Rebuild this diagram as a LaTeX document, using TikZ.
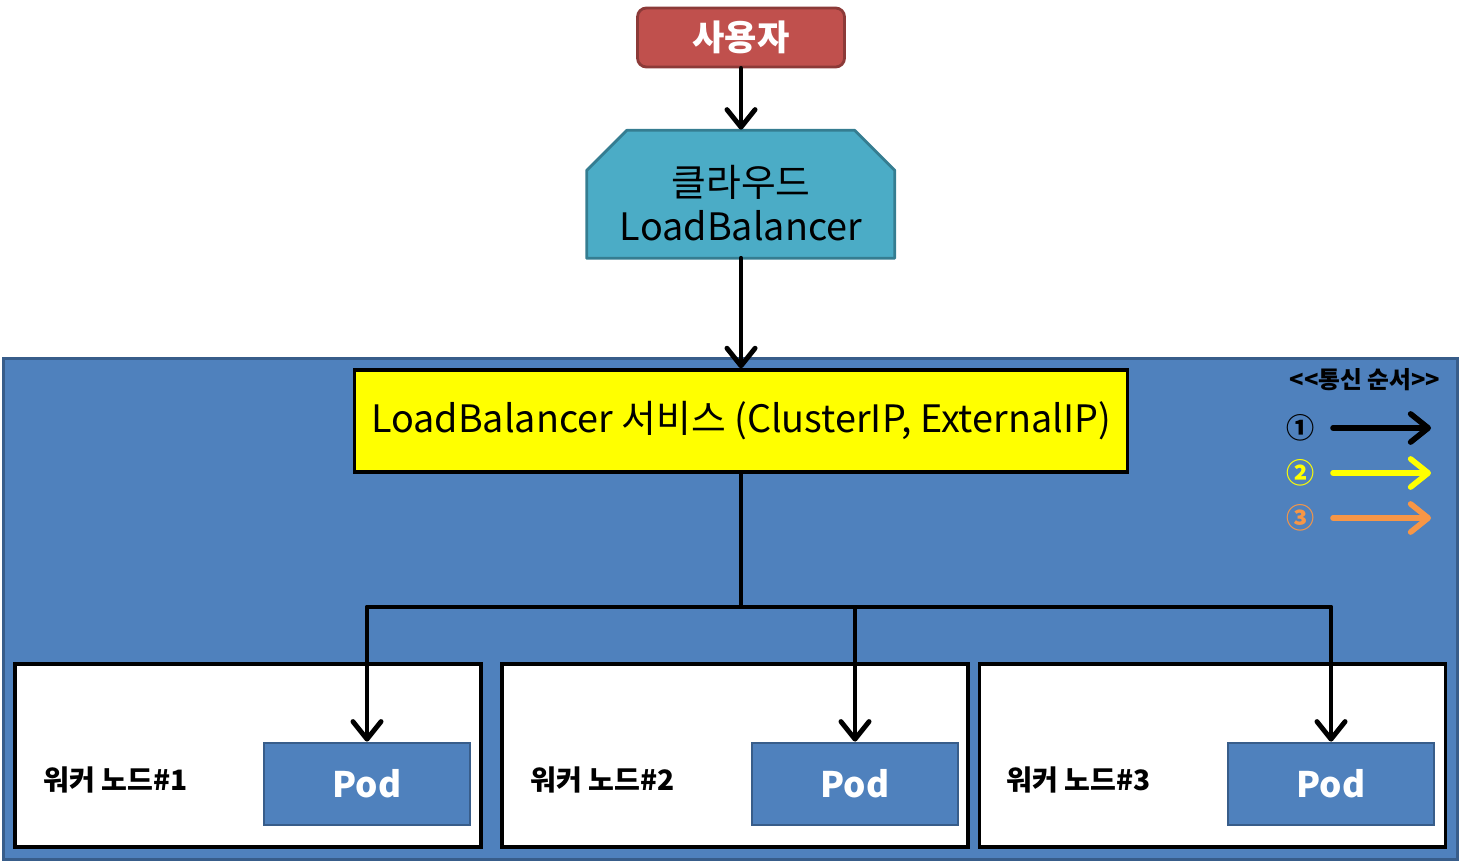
\documentclass[tikz,border=0pt]{standalone}
\usepackage{fontspec}
\setmainfont{Noto Sans CJK KR}
\usetikzlibrary{positioning,arrows.meta,backgrounds}
\definecolor{userred}{HTML}{C0504D}
\definecolor{userline}{HTML}{8C3A38}
\definecolor{cloudteal}{HTML}{4BACC6}
\definecolor{cloudline}{HTML}{357D91}
\definecolor{areablue}{HTML}{4F81BD}
\definecolor{arealine}{HTML}{385D8A}
\definecolor{svcyellow}{HTML}{FFFF00}
\definecolor{legorange}{HTML}{F79646}

\begin{document}
\begin{tikzpicture}[
  x=0.02cm, y=-0.02cm,
  big/.style   = {font=\fontsize{21.5}{25}\selectfont},
  userbox/.style = {draw=userline, fill=userred, line width=1.6pt, rounded corners=5pt,
                  minimum width=4.14cm, minimum height=1.18cm, text=white,
                  font=\fontsize{20}{24}\selectfont\bfseries},
  cloudlb/.style = {minimum width=6.16cm, minimum height=2.56cm},
  cloudtxt/.style = {align=center, big},
  region/.style  = {draw=arealine, fill=areablue, line width=1.7pt,
                  minimum width=29.1cm, minimum height=10.04cm},
  svc/.style   = {draw=black, fill=svcyellow, line width=2pt,
                  minimum width=15.46cm, minimum height=2.04cm, big},
  worker/.style  = {draw=black, fill=white, line width=2.2pt,
                  minimum width=9.32cm, minimum height=3.66cm},
  wlab/.style  = {font=\fontsize{16}{18}\selectfont\bfseries, anchor=west, inner sep=0pt},
  pod/.style   = {draw=arealine, fill=areablue, line width=1.6pt,
                  minimum width=4.12cm, minimum height=1.64cm, text=white,
                  font=\fontsize{20}{24}\selectfont\bfseries},
  legtitle/.style = {font=\fontsize{13.5}{16}\selectfont\bfseries},
  legnum/.style   = {font=\fontsize{16}{18}\selectfont\bfseries},
  arr/.style   = {-{Straight Barb[length=10pt,width=16pt,round]}, line width=2.8pt, line cap=round},
  legarr/.style = {arr, line width=3.2pt},
  line/.style  = {line width=2.8pt},
]
\useasboundingbox (0,0) rectangle (1462,862);

% ---------- top ----------
\node[userbox] (user) at (741,37.5) {사용자};
\node[cloudlb] (cloud) at (741,194) {};
\node[cloudtxt] (cloudlab) at (741,203) {클라우드\\LoadBalancer};
\begin{scope}[on background layer]
  \filldraw[fill=cloudteal, draw=cloudline, line width=1.6pt, line join=round]
    (cloud.south west) -- ++(0,-88) -- ++(40,-40) -- ++(228,0) -- ++(40,40) -- ++(0,88) -- cycle;
\end{scope}

% ---------- cluster ----------
\node[region] (cluster) at (730.5,609) {};
\node[svc] (lbsvc) at (741,421) {LoadBalancer 서비스 (ClusterIP, ExternalIP)};

\node[worker] (w1) at (248,755.5) {};
\node[worker] (w2) at (735,755.5) {};
\node[worker] (w3) at (1212.5,755.5) {};
\node[wlab] (wl1) at (43,780) {워커 노드\#1};
\node[wlab] (wl2) at (530,780) {워커 노드\#2};
\node[wlab] (wl3) at (1006,780) {워커 노드\#3};
\node[pod] (pod1) at (367,784) {Pod};
\node[pod] (pod2) at (855,784) {Pod};
\node[pod] (pod3) at (1331,784) {Pod};

% ---------- legend ----------
\node[legtitle] (leg) at (1365,380) {<{}<통신 순서>{}>};
\node[legnum] (n1) at (1301,428) {①};
\node[legnum, text=svcyellow] (n2) at (1301,473) {②};
\node[legnum, text=legorange] (n3) at (1301,518) {③};
\coordinate (a1) at (1333,428); \coordinate (b1) at (1431,428);
\coordinate (a2) at (1333,473); \coordinate (b2) at (1431,473);
\coordinate (a3) at (1333,518); \coordinate (b3) at (1431,518);
\draw[legarr] (a1) -- (b1);
\draw[legarr, draw=svcyellow] (a2) -- (b2);
\draw[legarr, draw=legorange] (a3) -- (b3);

% ---------- arrows ----------
\draw[arr] (user) -- (cloud);
\draw[arr] (cloud) -- (lbsvc);
\coordinate (split) at (741,607);
\draw[line] (lbsvc) -- (split);
\draw[arr, line join=round] (split) -| (pod1);
\draw[arr, line join=round] (split) -| (pod2);
\draw[arr, line join=round] (split) -| (pod3);

\end{tikzpicture}
\end{document}
